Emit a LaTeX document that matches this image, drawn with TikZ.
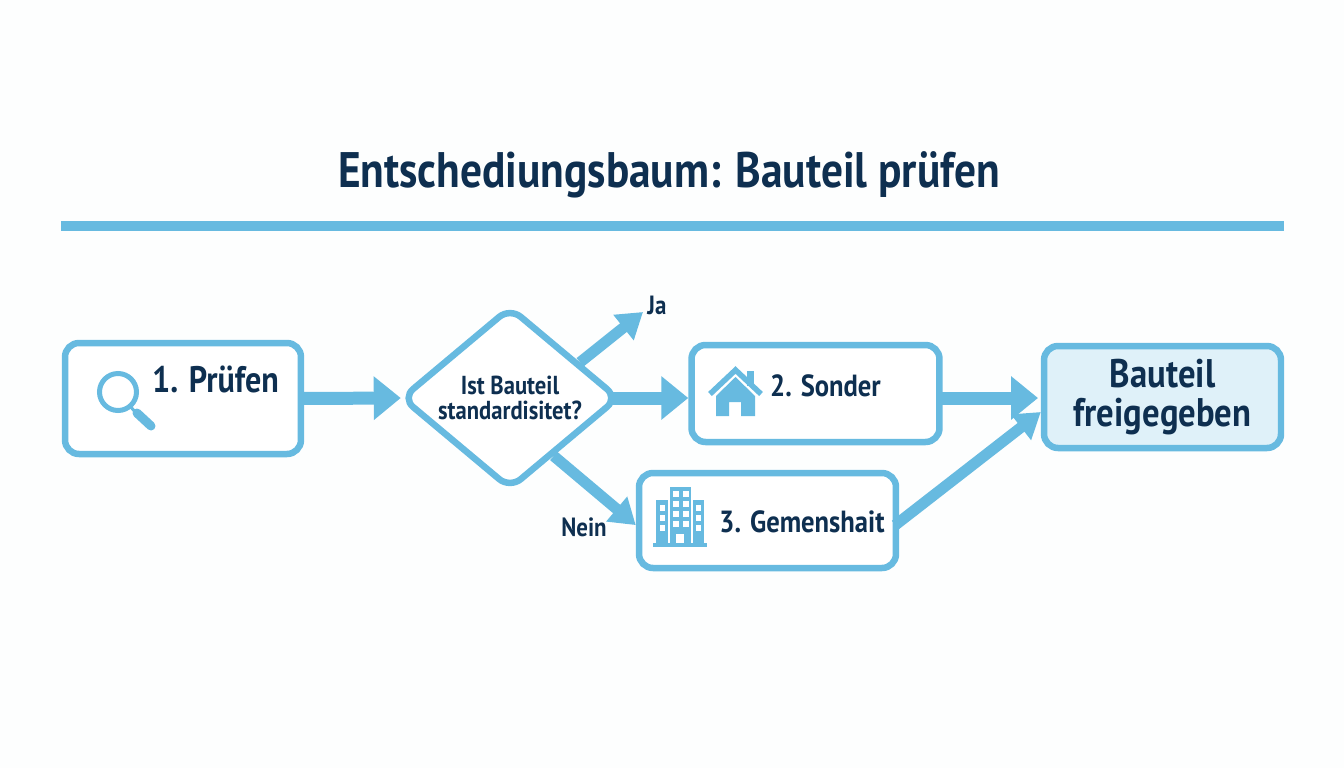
\documentclass[tikz,border=0pt]{standalone}
\usepackage{fontspec}
\setmainfont[FakeStretch=0.87]{PT Sans}
\usetikzlibrary{shapes.geometric,arrows.meta}
\definecolor{skyline}{HTML}{67BAE0}
\definecolor{navytext}{HTML}{0E2F50}
\definecolor{paleblue}{HTML}{DFF1F9}
\definecolor{paper}{HTML}{FDFEFE}
\tikzstyle{stepbox}=[rectangle,draw=skyline,line width=0.13cm,rounded corners=0.28cm,fill=white,inner sep=0pt]
\tikzstyle{boxtext}=[text=navytext,font=\bfseries\fontsize{21}{24}\selectfont,inner sep=0pt]
\tikzstyle{smalltext}=[text=navytext,font=\bfseries\fontsize{15}{17}\selectfont,inner sep=0pt]
\tikzstyle{bigarrow}=[draw=skyline,line width=0.26cm,-{Triangle[length=0.54cm,width=0.84cm,fill=skyline]}]
\tikzstyle{slimarrow}=[draw=skyline,line width=0.22cm,-{Triangle[length=0.5cm,width=0.62cm,fill=skyline]}]
\begin{document}
\begin{tikzpicture}[x=0.02cm,y=-0.02cm]
\useasboundingbox[fill=paper] (0,0) rectangle (1344,768);
% title and rule
\node[text=navytext,font=\bfseries\fontsize{28.4}{32}\selectfont,inner sep=0pt] at (669,175) (title) {Entschediungsbaum: Bauteil prüfen};
\fill[skyline] (61,221) rectangle (1284,231);
% boxes
\node[stepbox,minimum width=4.72cm,minimum height=2.22cm] at (183,398.5) (pruefen) {};
\node[diamond,draw=skyline,line width=0.13cm,rounded corners=0.28cm,fill=white,aspect=1.2,minimum width=4.36cm,minimum height=3.66cm,inner sep=0pt,align=center,text=navytext,font=\bfseries\fontsize{14.8}{14.2}\selectfont] at (510,398) (decide) {Ist Bauteil\\standardisitet?};
\node[stepbox,minimum width=4.96cm,minimum height=1.94cm] at (815.5,393.5) (sonder) {};
\node[stepbox,minimum width=5.14cm,minimum height=1.9cm] at (767.5,520.5) (gemein) {};
\node[stepbox,fill=paleblue,minimum width=4.74cm,minimum height=2.04cm,align=center,text=navytext,font=\bfseries\fontsize{22.7}{22}\selectfont] at (1162.5,397) (frei) {Bauteil\\freigegeben};
% box labels
\node[boxtext] at (215.5,379) (pruefentext) {1. Prüfen};
\node[boxtext,font=\bfseries\fontsize{17.4}{20}\selectfont] at (825.5,386) (sondertext) {2. Sonder};
\node[boxtext,font=\bfseries\fontsize{17.4}{20}\selectfont] at (802,522) (gemeintext) {3. Gemenshait};
\node[smalltext] at (657,305) (ja) {Ja};
\node[smalltext] at (584,527) (nein) {Nein};
% arrows
\coordinate (jatip) at (643,312);
\draw[bigarrow] ([xshift=-0.06cm]pruefen.east) -- ([xshift=0.06cm]decide.west);
\draw[bigarrow] ([xshift=-0.24cm]decide.east) -- (decide.east -| sonder.west);
\draw[bigarrow] ([xshift=-0.08cm]sonder.east |- 0,398) -- (1038,398) coordinate (freitip);
\draw[slimarrow] (decide.27) -- (jatip);
\draw[slimarrow] (decide.-53) -- (gemein.182);
\draw[slimarrow] ([xshift=-0.08cm]gemein.-2) -- ([yshift=-0.3cm]frei.west);
% magnifier
\draw[skyline,line width=0.1cm] (118,392) circle (18.5);
\draw[skyline,line width=0.06cm] (130,406) -- (136,413);
\draw[skyline,line width=0.18cm,line cap=round] (137,413) -- (151,426);
% house
\fill[skyline] (716,396) -- (735.5,377) -- (755,396) -- (755,416) -- (741,416) -- (741,402) -- (729,402) -- (729,416) -- (716,416) -- cycle;
\fill[skyline] (747,371) rectangle (754,386);
\draw[skyline,line width=0.11cm] (710,394) -- (735.5,370) -- (761,394);
% building
\fill[skyline] (670,487) rectangle (691,543);
\fill[skyline] (656,500) rectangle (668,543);
\fill[skyline] (693,500) rectangle (704,543);
\fill[skyline] (653,543) rectangle (707,547);
\foreach \wy in {491,501,511,521} {
  \fill[white] (673,\wy) rectangle +(5.5,6);
  \fill[white] (683,\wy) rectangle +(5.5,6);
}
\foreach \wy in {505,515,525} {
  \fill[white] (660,\wy) rectangle +(4.5,5.5);
  \fill[white] (696,\wy) rectangle +(4.5,5.5);
}
\fill[white] (676,534) rectangle (684,543);
\end{tikzpicture}
\end{document}
